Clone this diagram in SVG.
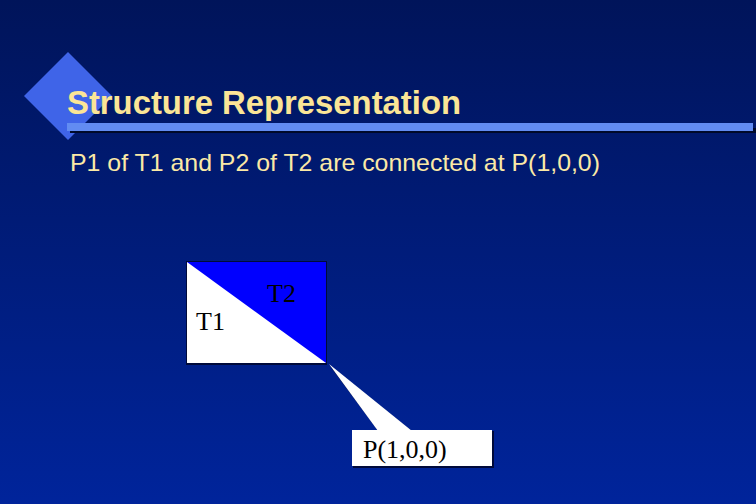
<svg xmlns="http://www.w3.org/2000/svg" width="756" height="504" viewBox="0 0 756 504">
  <defs>
    <linearGradient id="bg" x1="0" y1="0" x2="0" y2="1">
      <stop offset="0" stop-color="#00145a"/>
      <stop offset="1" stop-color="#00249b"/>
    </linearGradient>
  </defs>
  <style>
    .title { font-family: "Liberation Sans", Arial, sans-serif; font-weight: bold; font-size: 33px; fill: #fbe596; }
    .sub { font-family: "Liberation Sans", Arial, sans-serif; font-size: 24px; fill: #fbe9a6; }
    .lbl { font-family: "Liberation Serif", "Times New Roman", serif; font-size: 26px; fill: #000; }
  </style>
  <rect width="756" height="504" fill="url(#bg)"/>
  <g id="header">
    <polygon points="68,52 112,96 68,140 24,96" fill="#3f64e8"/>
    <rect x="70" y="128" width="686" height="5" fill="#000a2a"/>
    <rect x="67" y="123" width="686" height="8" fill="#628cf2"/>
    <text class="title" x="67" y="114" textLength="394" lengthAdjust="spacingAndGlyphs">Structure Representation</text>
    <text class="sub" x="70" y="171" textLength="530" lengthAdjust="spacingAndGlyphs">P1 of T1 and P2 of T2 are connected at P(1,0,0)</text>
  </g>
  <g id="square">
    <rect x="186" y="261" width="141" height="104" fill="#000a3a"/>
    <rect x="187" y="262" width="139" height="101" fill="#ffffff"/>
    <polygon points="187,262 326,262 326,363" fill="#0000ff"/>
  </g>
  <g id="T1"><text class="lbl" x="196" y="330">T1</text></g>
  <g id="T2"><text class="lbl" x="267" y="302">T2</text></g>
  <g id="callout">
    <rect x="353" y="431" width="141" height="37" fill="#000a3a"/>
    <polygon points="329,365 378,431 412,431" fill="#000a3a" transform="translate(1,1)"/>
    <rect x="352" y="430" width="140" height="36" fill="#ffffff"/>
    <polygon points="329,364 378,431 412,431" fill="#ffffff"/>
    <text class="lbl" x="363" y="458">P(1,0,0)</text>
  </g>
  <g id="connectors"/>
</svg>
